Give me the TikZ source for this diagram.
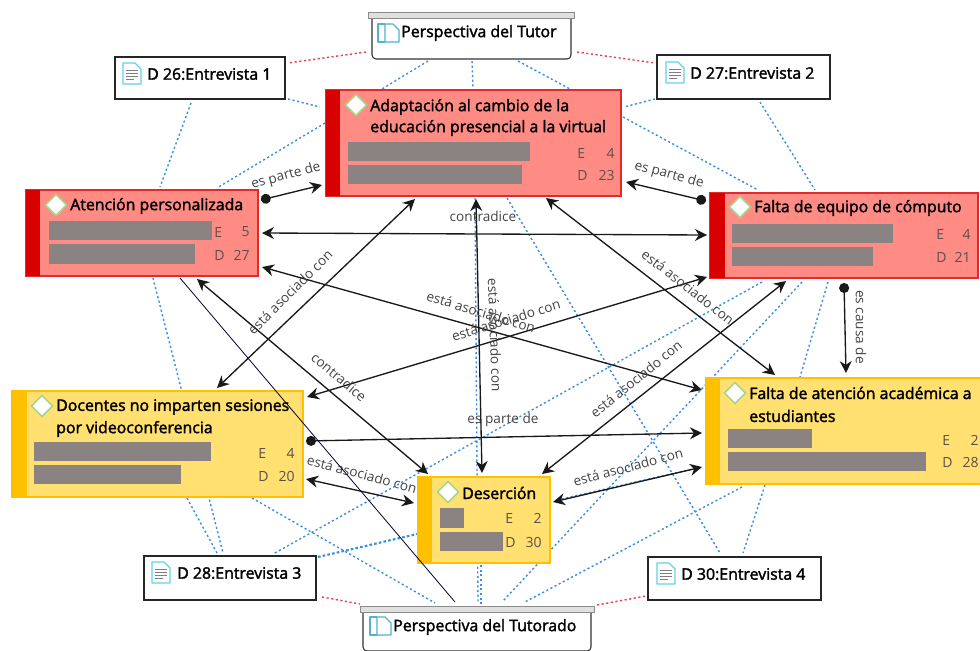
\documentclass[tikz,border=0pt]{standalone}
\usepackage{fontspec}
\setmainfont{Open Sans}
\newfontfamily\titlefont[FakeBold=2]{Open Sans}
\usetikzlibrary{arrows.meta}
\pgfdeclarelayer{bg}
\pgfsetlayers{bg,main}
\definecolor{redfill}{HTML}{FF8C84}
\definecolor{redbar}{HTML}{D90000}
\definecolor{redline}{HTML}{E22A2A}
\definecolor{yelfill}{HTML}{FFE070}
\definecolor{yelbar}{HTML}{FFC000}
\definecolor{grayblk}{HTML}{8B8282}
\definecolor{dotblue}{HTML}{3A8FE0}
\definecolor{dotred}{HTML}{E2404C}
\definecolor{labelc}{HTML}{444444}
\definecolor{statc}{HTML}{5A5048}
\definecolor{iconc}{HTML}{62D2EA}
\definecolor{diamc}{HTML}{A8D48C}
\tikzset{
  redbox/.style={fill=redfill,draw=redline,line width=0.9pt},
  yelbox/.style={fill=yelfill,draw=yelbar,line width=0.9pt},
  docbox/.style={fill=white,draw=black!85,line width=0.9pt},
  persbox/.style={fill=white,draw=black!80,line width=0.8pt,rounded corners=3pt},
  capbar/.style={fill=black!12,draw=black!45,line width=0.6pt},
  ttl/.style={anchor=west,inner sep=0pt,font=\titlefont\fontsize{11.9}{13}\selectfont,text=black},
  lbl/.style={inner sep=0pt,font=\fontsize{10.2}{12}\selectfont,text=labelc},
  stat/.style={inner sep=0pt,font=\fontsize{10.5}{12}\selectfont,text=statc},
  arr/.style={-{Stealth[length=9pt,width=9pt]},line width=1pt,draw=black!90},
  dbl/.style={{Stealth[length=9pt,width=9pt]}-{Stealth[length=9pt,width=9pt]},line width=1pt,draw=black!90},
  dotarr/.style={{Circle[length=7.5pt]}-{Stealth[length=9pt,width=9pt]},line width=1pt,draw=black!90},
  thinl/.style={line width=0.6pt,draw=black!80!blue},
  blued/.style={draw=dotblue,line width=1.05pt,dash pattern=on 1.6pt off 1.9pt},
  bluedd/.style={draw=dotblue,line width=1.6pt,dash pattern=on 2pt off 1.6pt},
  redd/.style={draw=dotred,line width=1.05pt,dash pattern=on 1.6pt off 1.9pt},
}
\newcommand{\bx}[6]{\node[#2,anchor=north west,inner sep=0pt,outer sep=0pt,
  minimum width={(#5-#3)*0.75pt},minimum height={(#6-#4)*0.75pt}] (#1) at (#3,#4) {};}
\newcommand{\sidebar}[5]{\fill[#1] (#2,#3) rectangle (#4,#5);}
\newcommand{\gbar}[4]{\fill[grayblk] (#1,#2) rectangle (#3,#4);}
\newcommand{\diam}[2]{\draw[fill=white,draw=diamc,line width=1.1pt] (#1-10.5,#2) -- (#1,#2-10.5) -- (#1+10.5,#2) -- (#1,#2+10.5) -- cycle;}
\newcommand{\docicon}[2]{\begin{scope}[shift={(#1,#2)}]
  \draw[fill=white,draw=iconc,line width=0.9pt,line join=round] (0,0) -- (12,0) -- (18,6) -- (18,21) -- (0,21) -- cycle;
  \draw[black!50,line width=0.7pt] (3,7) -- (15,7) (3,10) -- (15,10) (3,13) -- (15,13) (3,16) -- (11,16);
\end{scope}}
\newcommand{\bookicon}[2]{\begin{scope}[shift={(#1,#2)}]
  \draw[draw=iconc!85!black,line width=0.9pt,line join=round] (7,0) -- (0,0) -- (0,18) -- (7,18);
  \draw[draw=iconc!85!black,line width=0.9pt,line join=round] (7,0) -- (15,0) -- (21,6) -- (21,18) -- (7,18) -- cycle;
\end{scope}}
\newcommand{\stats}[7]{%
  \node[stat,anchor=west] (#1-e) at (#2,#3) {E};
  \node[stat,anchor=east] (#1-en) at (#4,#3) {#6};
  \node[stat,anchor=west] (#1-d) at (#2,#5) {D};
  \node[stat,anchor=east] (#1-dn) at (#4,#5) {#7};}
\newcommand{\anc}[3]{([shift={(#2,#3)}]#1.north west)}
\begin{document}
\begin{tikzpicture}[x=0.75pt,y=-0.75pt]
\useasboundingbox (0,0) rectangle (980,650);

% document boxes
\bx{d26}{docbox}{115}{57}{285}{99}
\bx{d27}{docbox}{657}{55}{830}{99}
\bx{d28}{docbox}{144}{556}{316}{600}
\bx{d30}{docbox}{648}{557}{821}{600}
\docicon{123}{63}\docicon{666}{62}\docicon{152}{562}\docicon{657}{563}
\node[ttl] (d26t) at (147,74) {D 26:Entrevista 1};
\node[ttl] (d27t) at (690,73) {D 27:Entrevista 2};
\node[ttl] (d28t) at (177,573) {D 28:Entrevista 3};
\node[ttl] (d30t) at (681,574) {D 30:Entrevista 4};

% perspective boxes
\draw[persbox] (372,15) -- (372,59) -- (571,59) -- (571,15);
\node[capbar,anchor=north west,inner sep=0pt,outer sep=0pt,minimum width=154.5pt,minimum height=4.5pt] (tutcap) at (368,12.5) {};
\coordinate (tut) at (372,18);
\draw[persbox] (363,610) -- (363,651) -- (591,651) -- (591,610);
\node[capbar,anchor=north west,inner sep=0pt,outer sep=0pt,minimum width=176pt,minimum height=4.5pt] (tdocap) at (360,606) {};
\coordinate (tdo) at (363,612);
\bookicon{378}{24}\bookicon{370}{617}
\node[ttl] (tutt) at (401,33) {Perspectiva del Tutor};
\node[ttl] (tdot) at (393,627) {Perspectiva del Tutorado};

% code boxes
\bx{ada}{redbox}{326}{90}{621}{196}
\sidebar{redbar}{326}{90}{340}{196}
\gbar{348}{142}{530}{161}\gbar{348}{165}{522}{184}
\diam{356}{105}
\node[ttl] (adat1) at (370,107) {Adaptación al cambio de la};
\node[ttl] (adat2) at (370,128) {educación presencial a la virtual};
\stats{ada}{577}{153}{615}{175}{4}{23}

\bx{ate}{redbox}{26}{190}{258}{276}
\sidebar{redbar}{26}{190}{40}{276}
\gbar{49}{221}{212}{240}\gbar{49}{244}{195}{264}
\diam{56}{205}
\node[ttl] (atet) at (70,206) {Atención personalizada};
\stats{ate}{214}{232}{250}{255}{5}{27}

\bx{equ}{redbox}{710}{193}{978}{278}
\sidebar{redbar}{710}{193}{725}{278}
\gbar{732}{224}{893}{243}\gbar{732}{247}{873}{266}
\diam{740}{207}
\node[ttl] (equt) at (754,208) {Falta de equipo de cómputo};
\stats{equ}{936}{234}{971}{257}{4}{21}

\bx{doc}{yelbox}{12}{391}{303}{497}
\sidebar{yelbar}{12}{391}{27}{497}
\gbar{34}{442}{211}{461}\gbar{34}{465}{181}{484}
\diam{42}{406}
\node[ttl] (doct1) at (56,407) {Docentes no imparten sesiones};
\node[ttl] (doct2) at (56,429) {por videoconferencia};
\stats{doc}{258}{453}{295}{476}{4}{20}

\bx{des}{yelbox}{418}{477}{550}{563}
\sidebar{yelbar}{418}{477}{432}{563}
\gbar{440}{508}{464}{528}\gbar{440}{532}{503}{551}
\diam{448}{492}
\node[ttl] (dest) at (462,493) {Deserción};
\stats{des}{505}{518}{542}{542}{2}{30}

\bx{fal}{yelbox}{706}{378}{984}{484}
\sidebar{yelbar}{706}{378}{720}{484}
\gbar{728}{429}{812}{448}\gbar{728}{452}{926}{471}
\diam{735}{393}
\node[ttl] (falt1) at (749,393) {Falta de atención académica a};
\node[ttl] (falt2) at (749,416) {estudiantes};
\stats{fal}{942}{440}{979}{462}{2}{28}

% dotted links, behind the boxes
\begin{pgfonlayer}{bg}
\draw[blued] \anc{tut}{56}{43} -- \anc{ada}{56}{-1};
\draw[blued] \anc{tut}{100}{43} -- \anc{ada}{147}{-2};
\draw[blued] \anc{tut}{146}{43} -- \anc{ada}{244}{-1};
\draw[blued] \anc{d26}{173}{42} -- \anc{ada}{-6}{17};
\draw[blued] \anc{d26}{76}{46} -- \anc{ate}{134}{-3};
\draw[blued] \anc{ada}{-1}{33} -- \anc{ate}{191}{-2};
\draw[blued] \anc{d27}{-2}{44} -- \anc{ada}{298}{17};
\draw[blued] \anc{d27}{103}{47} -- \anc{equ}{105}{-3};
\draw[blued] \anc{ada}{297}{27} -- \anc{equ}{48}{-3};
\draw[blued] \anc{ada}{181}{108} -- \anc{d30}{72}{-4};
\draw[blued] \anc{ada}{149}{108} -- \anc{tdo}{115}{-9};
\draw[blued] \anc{des}{63}{88} -- \anc{tdo}{118}{-8};
\draw[blued] \anc{equ}{52}{89} -- \anc{d28}{129}{-2};
\draw[blued] \anc{equ}{92}{89} -- \anc{tdo}{139}{-10};
\draw[blued] \anc{equ}{118}{89} -- \anc{fal}{94}{-1};
\draw[blued] \anc{des}{139}{23} -- \anc{fal}{-9}{90};
\draw[blued] \anc{fal}{36}{109} -- \anc{tdo}{162}{-10};
\draw[blued] \anc{fal}{59}{107} -- \anc{d30}{95}{-4};
\draw[blued] \anc{ate}{127}{88} -- \anc{d28}{79}{-3};
\draw[blued] \anc{doc}{175}{107} -- \anc{d28}{73}{-3};
\draw[blued] \anc{doc}{240}{107} -- \anc{tdo}{72}{-9};
\draw[bluedd] \anc{d28}{174}{1} -- \anc{des}{-1}{57};
\draw[redd] \anc{tut}{-6}{34} -- \anc{d26}{173}{6};
\draw[redd] \anc{tut}{205}{34} -- \anc{d27}{-2}{8};
\draw[redd] \anc{d28}{178}{41} -- \anc{tdo}{-3}{-8};
\draw[redd] \anc{tdo}{234}{-7} -- \anc{d30}{-2}{39};
\node[lbl,rotate=-15] (l13) at (362,474) {está asociado con};
\end{pgfonlayer}

% relations
\draw[dotarr] \anc{ate}{235}{10} -- \anc{ada}{-4}{95};
\draw[dotarr] \anc{equ}{-4}{8} -- \anc{ada}{300}{92};
\draw[dbl] \anc{ate}{236}{43} -- \anc{equ}{-3}{42};
\draw[dbl] \anc{ada}{150}{109} -- \anc{des}{64}{-4};
\draw[dbl] \anc{ate}{171}{89} -- \anc{des}{10}{-3};
\draw[dbl] \anc{ada}{89}{109} -- \anc{doc}{205}{-3};
\draw[dbl] \anc{ate}{236}{77} -- \anc{fal}{-4}{12};
\draw[dbl] \anc{doc}{295}{6} -- \anc{equ}{-3}{84};
\draw[dbl] \anc{ada}{220}{108} -- \anc{fal}{69}{-3};
\draw[dbl] \anc{equ}{76}{88} -- \anc{des}{124}{-3};
\draw[dotarr] \anc{equ}{134}{90} -- \anc{fal}{140}{-5};
\draw[dotarr] \anc{doc}{294}{50} -- \anc{fal}{-4}{55};
\draw[dbl] \anc{doc}{294}{88} -- \anc{des}{-4}{26};
\draw[dbl] \anc{des}{135}{25} -- \anc{fal}{-4}{89};
\draw[thinl] \anc{ate}{154}{88} -- \anc{tdo}{92}{-10};

% relation labels
\node[lbl,rotate=15] (l1) at (286,176) {es parte de};
\node[lbl,rotate=-15] (l2) at (669,175) {es parte de};
\node[lbl] (l3) at (483,216) {contradice};
\node[lbl,rotate=45] (l4) at (290,292) {está asociado con};
\node[lbl,rotate=-40] (l5) at (339,377) {contradice};
\node[lbl,rotate=-17] (l6) at (481,312) {está asociado con};
\node[lbl,rotate=17] (l7) at (506,320) {está asociado con};
\node[lbl,rotate=-88] (l8) at (495,335) {está asociado con};
\node[lbl,rotate=-38] (l9) at (688,287) {está asociado con};
\node[lbl,rotate=39] (l10) at (636,379) {está asociado con};
\node[lbl,rotate=-90] (l11) at (861,327) {es causa de};
\node[lbl] (l12) at (503,420) {es parte de};
\node[lbl,rotate=15] (l14) at (628,467) {está asociado con};
\end{tikzpicture}
\end{document}
